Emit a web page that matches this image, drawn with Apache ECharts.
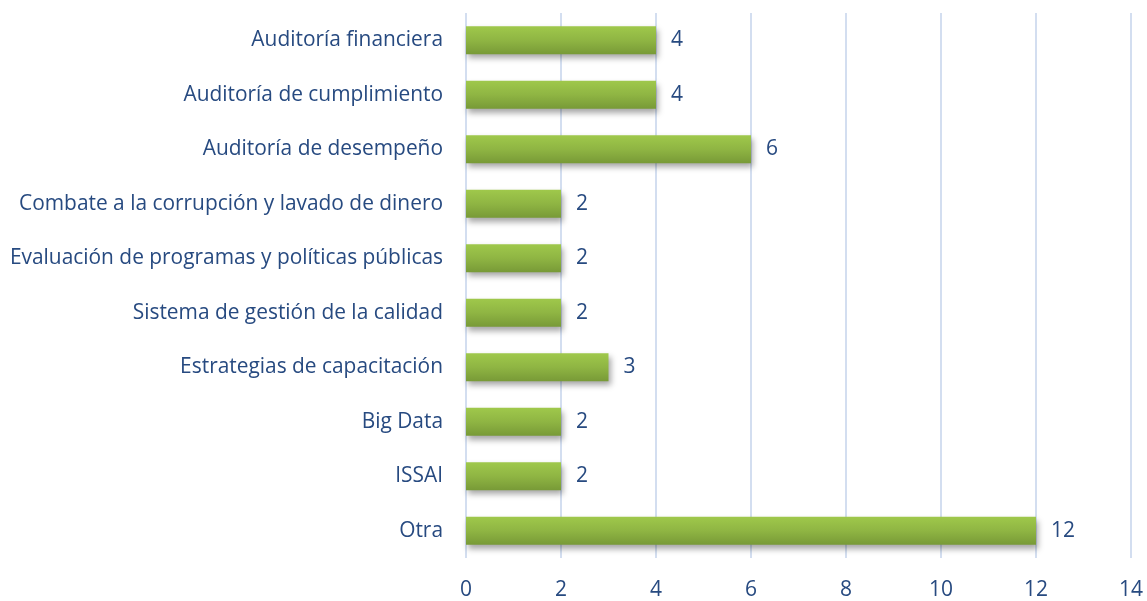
<!DOCTYPE html>
<html>
<head>
<meta charset="utf-8">
<script src="https://cdn.jsdelivr.net/npm/echarts@6/dist/echarts.min.js"></script>
<style>
html,body{margin:0;padding:0;background:#fff;}
#chart{width:1147px;height:601px;}
</style>
</head>
<body>
<div id="chart"></div>
<script>
// categories, top to bottom as in the picture
var categories = ['Auditoría financiera', 'Auditoría de cumplimiento', 'Auditoría de desempeño',
    'Combate a la corrupción y lavado de dinero', 'Evaluación de programas y políticas públicas',
    'Sistema de gestión de la calidad', 'Estrategias de capacitación', 'Big Data', 'ISSAI', 'Otra'];
var values = [4, 4, 6, 2, 2, 2, 3, 2, 2, 12];
var xTicks = [0, 2, 4, 6, 8, 10, 12, 14];

var textColor = '#274A80';
var font = '"Open Sans", Lato, sans-serif';

var myChart = echarts.init(document.getElementById('chart'));
var option = {
    animation: false,
    grid: {
        left: 466,
        right: 16,
        top: 13,
        bottom: 42
    },
    xAxis: {
        type: 'value',
        min: xTicks[0],
        max: xTicks[xTicks.length - 1],
        interval: 2,
        axisLine: {show: false},
        axisTick: {show: false},
        splitLine: {lineStyle: {color: '#D3DEF0', width: 2}},
        axisLabel: {color: textColor, fontSize: 21, fontFamily: font, margin: 22}
    },
    yAxis: {
        type: 'category',
        inverse: true,
        data: categories,
        axisLine: {show: false},
        axisTick: {show: false},
        axisLabel: {color: textColor, fontSize: 20.9, fontFamily: font, margin: 23, padding: [3, 0, 0, 0]}
    },
    series: [
        {
            type: 'bar',
            data: values,
            barWidth: '51%',
            itemStyle: {
                color: new echarts.graphic.LinearGradient(0, 0, 0, 1, [
                    {offset: 0, color: '#9FC84B'},
                    {offset: 0.5, color: '#8FB543'},
                    {offset: 1, color: '#789A37'}
                ]),
                shadowColor: 'rgba(0,0,0,0.35)',
                shadowBlur: 6,
                shadowOffsetX: 2,
                shadowOffsetY: 4
            },
            label: {
                show: true,
                position: 'right',
                distance: 15,
                color: textColor,
                fontSize: 21,
                fontFamily: font,
                padding: [3, 0, 0, 0]
            }
        }
    ]
};
myChart.setOption(option);
</script>
</body>
</html>
